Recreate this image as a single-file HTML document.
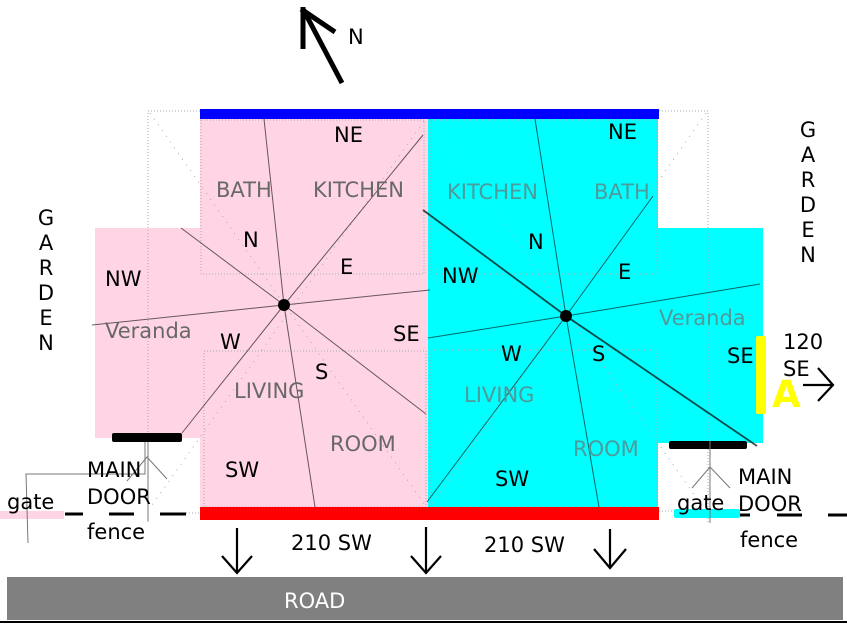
<!DOCTYPE html>
<html><head><meta charset="utf-8"><style>
html,body{margin:0;padding:0;background:#fff;}
svg{display:block;}
text{font-family:"DejaVu Sans","Liberation Sans",sans-serif;font-size:21px;}
.k{fill:#000;}
.gp{fill:#686868;}
.gc{fill:#4f9a9a;}
</style></head><body>
<svg width="847" height="624" viewBox="0 0 847 624" xmlns="http://www.w3.org/2000/svg">
<!-- fills -->
<rect x="200" y="119" width="228" height="388" fill="#ffd5e5"/>
<rect x="95" y="228" width="105" height="210" fill="#ffd5e5"/>
<rect x="428" y="119" width="230" height="388" fill="#00ffff"/>
<rect x="658" y="228" width="105" height="215" fill="#00ffff"/>

<!-- dotted guide lines -->
<g fill="none" stroke="#aaa" stroke-width="1" stroke-dasharray="1,2">
<polyline points="200,111 148,111 148,522"/>
<polyline points="659,111 708,111 708,522"/>
<rect x="201" y="120" width="223" height="154"/>
<rect x="431" y="120" width="226" height="154"/>
<rect x="204" y="351" width="222" height="156"/>
<rect x="431" y="350" width="225" height="157"/>
<line x1="186" y1="513" x2="200" y2="513"/>
<line x1="659" y1="511" x2="674" y2="511"/>
</g>
<g fill="none" stroke="#aaa" stroke-width="1" stroke-dasharray="1,6">
<line x1="150" y1="113" x2="425" y2="505"/>
<line x1="424" y1="121" x2="150" y2="508"/>
<line x1="706" y1="113" x2="431" y2="505"/>
<line x1="431" y1="121" x2="705" y2="510"/>
</g>

<!-- compass lines -->
<g fill="none" stroke="#000" stroke-opacity="0.6" stroke-width="1">
<polyline points="264,119 284,305 315,507"/>
<polyline points="423,135 284,305 182,433"/>
<polyline points="430,290 284,305 92,325"/>
<polyline points="181,228 284,305 426,414"/>
<polyline points="535,119 566,316 599,507"/>
<polyline points="653,196 566,316 427,502"/>
<polyline points="760,284 566,316 428,338"/>
</g>
<polyline points="423,210 566,316 757,446" fill="none" stroke="#000" stroke-opacity="0.7" stroke-width="1.8"/>
<circle cx="284" cy="305" r="6" fill="#000"/>
<circle cx="566" cy="316" r="6" fill="#000"/>

<!-- bars -->
<rect x="200" y="109" width="459" height="10" fill="#0000ff"/>
<rect x="200" y="507" width="459" height="13" fill="#ff0000"/>
<rect x="112" y="433" width="70" height="9" rx="2" fill="#000"/>
<rect x="669" y="441" width="78" height="8" rx="2" fill="#000"/>
<rect x="756" y="336" width="10" height="78" rx="2" fill="#ffff00"/>
<rect x="0" y="511" width="64" height="8" fill="#ffd5e5"/>
<rect x="674" y="509" width="66" height="9" rx="2" fill="#00ffff"/>

<!-- fence dashes -->
<g stroke="#000" stroke-width="3">
<line x1="65" y1="514" x2="83" y2="514"/>
<line x1="109" y1="514" x2="134" y2="514"/>
<line x1="160" y1="514" x2="186" y2="514"/>
<line x1="740" y1="515" x2="750" y2="515"/>
<line x1="777" y1="515" x2="802" y2="515"/>
<line x1="828" y1="515" x2="847" y2="515"/>
</g>

<!-- thin gray door lines -->
<g fill="none" stroke="#777" stroke-width="1">
<polyline points="28,543 26,474 145,474 145,442"/>
<line x1="148" y1="442" x2="148" y2="521"/>
<polyline points="127,481 147,457 167,479"/>
<line x1="710" y1="441" x2="710" y2="523"/>
<polyline points="692,488 710,467 730,488"/>
</g>

<!-- north arrow -->
<g fill="none" stroke="#000" stroke-width="5">
<line x1="342" y1="83" x2="303" y2="9"/>
<line x1="303" y1="7" x2="303" y2="49"/>
<line x1="301" y1="9" x2="335" y2="32"/>
</g>

<!-- down arrows -->
<g fill="none" stroke="#000" stroke-width="2.2">
<line x1="237" y1="528" x2="237" y2="573"/>
<polyline points="222,556 237,573 252,556"/>
<line x1="426" y1="527" x2="426" y2="573"/>
<polyline points="411,556 426,573 441,556"/>
<line x1="610" y1="529" x2="610" y2="568"/>
<polyline points="594,549 610,568 626,549"/>
<line x1="803" y1="385" x2="833" y2="385"/>
<polyline points="818,368 833,385 818,401"/>
</g>

<!-- road -->
<rect x="7" y="577" width="836" height="43" fill="#808080"/>
<rect x="0" y="621" width="847" height="2" fill="#000"/>

<!-- text -->
<text x="348" y="44" class="k">N</text>
<g class="k" text-anchor="middle">
<text x="46" y="225">G</text><text x="46" y="250">A</text><text x="46" y="275">R</text>
<text x="46" y="300">D</text><text x="46" y="325">E</text><text x="46" y="350">N</text>
<text x="808" y="137">G</text><text x="808" y="162">A</text><text x="808" y="187">R</text>
<text x="808" y="212">D</text><text x="808" y="237">E</text><text x="808" y="262">N</text>
</g>

<text x="334" y="142" class="k">NE</text>
<text x="216" y="197" class="gp">BATH</text>
<text x="313" y="197" class="gp">KITCHEN</text>
<text x="243" y="247" class="k">N</text>
<text x="340" y="274" class="k">E</text>
<text x="105" y="286" class="k">NW</text>
<text x="105" y="338" class="gp">Veranda</text>
<text x="220" y="349" class="k">W</text>
<text x="393" y="341" class="k">SE</text>
<text x="315" y="379" class="k">S</text>
<text x="234" y="398" class="gp">LIVING</text>
<text x="330" y="451" class="gp">ROOM</text>
<text x="225" y="477" class="k">SW</text>

<text x="608" y="139" class="k">NE</text>
<text x="447" y="199" class="gc">KITCHEN</text>
<text x="594" y="199" class="gc">BATH</text>
<text x="528" y="249" class="k">N</text>
<text x="618" y="279" class="k">E</text>
<text x="442" y="283" class="k">NW</text>
<text x="659" y="325" class="gc">Veranda</text>
<text x="501" y="361" class="k">W</text>
<text x="592" y="361" class="k">S</text>
<text x="727" y="363" class="k">SE</text>
<text x="464" y="402" class="gc">LIVING</text>
<text x="573" y="456" class="gc">ROOM</text>
<text x="495" y="486" class="k">SW</text>

<text x="783" y="349" class="k">120</text>
<text x="783" y="376" class="k">SE</text>
<text x="772" y="407" style="font-size:37px;font-weight:bold;fill:#ffff00">A</text>

<text x="291" y="550" class="k">210 SW</text>
<text x="484" y="552" class="k">210 SW</text>
<text x="284" y="608" style="fill:#fff">ROAD</text>

<text x="87" y="477" class="k">MAIN</text>
<text x="87" y="504" class="k">DOOR</text>
<text x="7" y="509" class="k">gate</text>
<text x="87" y="539" class="k">fence</text>
<text x="677" y="510" class="k">gate</text>
<text x="738" y="484" class="k">MAIN</text>
<text x="738" y="511" class="k">DOOR</text>
<text x="740" y="547" class="k">fence</text>
</svg>
</body></html>
